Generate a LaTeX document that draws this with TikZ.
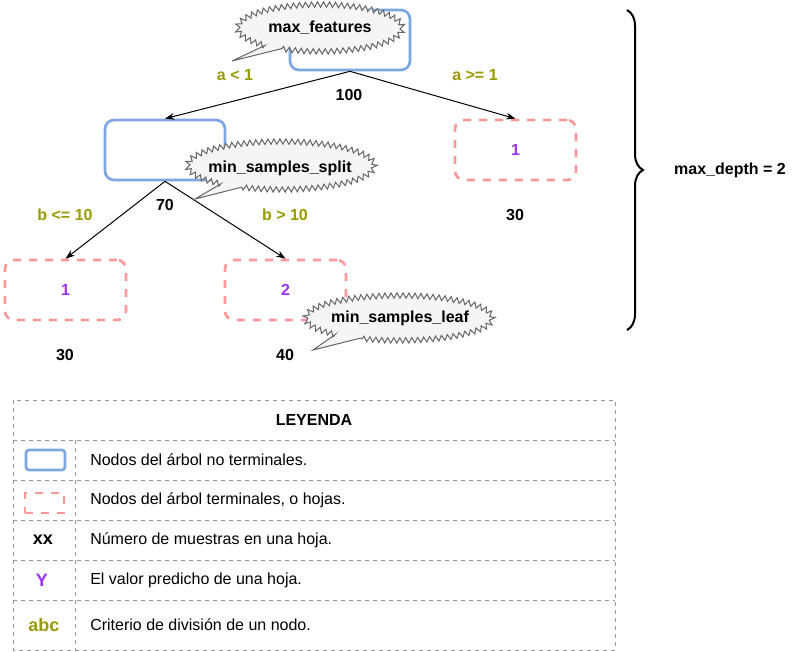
\documentclass[tikz,border=0pt,12pt]{standalone}
\usepackage{fontspec}
\setmainfont{Liberation Sans}
\usetikzlibrary{arrows.meta,decorations.pathreplacing,decorations.pathmorphing}

\definecolor{nodeblue}{HTML}{7EA6E0}
\definecolor{leafpink}{HTML}{FF9999}
\definecolor{valpurple}{HTML}{9933FF}
\definecolor{splitolive}{HTML}{999900}
\definecolor{burstfill}{HTML}{F5F5F5}
\definecolor{burstdraw}{HTML}{666666}
\definecolor{leggray}{HTML}{999999}

\begin{document}
\begin{tikzpicture}[x=0.75pt,y=-0.75pt,
  inner/.style={draw=nodeblue, line width=2pt, rounded corners=6.75pt, minimum width=90pt, minimum height=45pt, inner sep=0pt},
  leaf/.style={draw=leafpink, line width=2pt, dash pattern=on 6pt off 6pt, rounded corners=6.75pt, minimum width=90.75pt, minimum height=45pt, inner sep=0pt, text=valpurple, font=\bfseries},
  edge/.style={line width=0.75pt, -{Stealth[length=7pt,width=5pt]}},
  burst/.style={draw=burstdraw, fill=burstfill, line width=0.75pt, line join=miter},
  spikes/.style={decoration={zigzag, segment length=4.5pt, amplitude=2pt}},
  bold/.style={inner sep=0pt, font=\bfseries},
  crit/.style={inner sep=0pt, font=\bfseries, text=splitolive},
  keysym/.style={inner sep=0pt, font=\fontsize{13.5}{16}\selectfont\bfseries},
  legline/.style={draw=leggray, line width=0.75pt, dash pattern=on 3pt off 3pt},
  legtxt/.style={anchor=west, inner sep=0pt}]
\useasboundingbox (0,0) rectangle (795,652);

% Tree nodes
\node[inner] (root) at (350,40) {};
\node[inner] (split) at (165,150) {};
\node[leaf] (leafr) at (515.5,150) {1};
\node[leaf] (leafa) at (65.5,290) {1};
\node[leaf] (leafb) at (285.5,290) {2};

% Edges
\draw[edge] (root.south) -- (split.north);
\draw[edge] (root.south) -- (leafr.north);
\draw[edge] (split.south) -- (leafa.north);
\draw[edge] (split.south) -- (leafb.north);

% Callouts: centre, radii, tail angles, tail tip
\foreach \cx/\cy/\rx/\ry/\ta/\tb/\tx/\ty in {320/28/82.5/23.5/132/118/232/61, 281/165.5/93.5/24/130/115/195/199, 399/318/93.5/22.5/133/115/313/350}{
  \draw[burst] (\tx,\ty) -- ({\cx+\rx*cos(\ta)},{\cy+\ry*sin(\ta)})
    decorate[spikes]{ arc[start angle=-\ta, end angle={-\ta-360+\ta-\tb}, x radius=\rx*0.75pt, y radius=\ry*0.75pt] } -- cycle;
}

% Text Node
\node[bold] (mf) at (320,28) {max\_features};
\node[bold] (mss) at (280,168) {min\_samples\_split};
\node[bold] (msl) at (400,318) {min\_samples\_leaf};

% Sample counts
\node[bold] (n100) at (349,95) {100};
\node[bold] (n70) at (165,205) {70};
\node[bold] (n30r) at (515,215) {30};
\node[bold] (n30) at (65,355) {30};
\node[bold] (n40) at (285,355) {40};

% Split criteria
\node[crit] (ca) at (235,75) {a < 1};
\node[crit] (cb) at (475,75) {a >= 1};
\node[crit] (cc) at (65,215) {b <= 10};
\node[crit] (cd) at (285,215) {b > 10};

% Depth brace
\draw[decorate, decoration={brace, amplitude=12pt}, line width=1.5pt] (627,10) -- (627,330);
\node[bold] (depth) at (730,170) {max\_depth = 2};

% Legend
\draw[legline] (13,400) rectangle (615,650);
\draw[legline] (13,440) -- (615,440);
\draw[legline] (13,480) -- (615,480);
\draw[legline] (13,520) -- (615,520);
\draw[legline] (13,560) -- (615,560);
\draw[legline] (13,600) -- (615,600);
\draw[legline] (75,440) -- (75,650);
\node[bold] (leyenda) at (314,420) {LEYENDA};
\node[draw=nodeblue, line width=2pt, rounded corners=2.25pt, minimum width=29.25pt, minimum height=15pt, inner sep=0pt] (kinner) at (45.5,460) {};
\node[draw=leafpink, line width=2pt, dash pattern=on 6pt off 6pt, minimum width=29.25pt, minimum height=15pt, inner sep=0pt] (kleaf) at (44.5,503) {};
\node[keysym] (kxx) at (43,540) {xx};
\node[keysym, text=valpurple] (ky) at (42,580) {Y};
\node[keysym, text=splitolive] (kabc) at (44,625) {abc};
\node[legtxt] (t1) at (90,460) {Nodos del árbol no terminales.};
\node[legtxt] (t2) at (90,500) {Nodos del árbol terminales, o hojas.};
\node[legtxt] (t3) at (90,540) {Número de muestras en una hoja.};
\node[legtxt] (t4) at (90,580) {El valor predicho de una hoja.};
\node[legtxt] (t5) at (90,625) {Criterio de división de un nodo.};

\end{tikzpicture}
\end{document}
